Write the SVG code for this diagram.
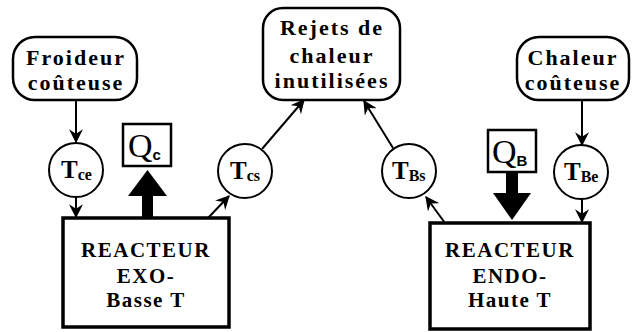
<svg xmlns="http://www.w3.org/2000/svg" width="635" height="332" viewBox="0 0 635 332">
<defs>
<marker id="ah" viewBox="0 0 12 12" refX="11" refY="6" markerWidth="14" markerHeight="14" markerUnits="userSpaceOnUse" orient="auto">
<path d="M0,0 L12,6 L0,12 L4,6 z" fill="#000"/>
</marker>
<style>
.bx{fill:#fff;stroke:#000;stroke-width:2.5}
.rx{fill:#fff;stroke:#000;stroke-width:3.5}
.cr{fill:#fff;stroke:#000;stroke-width:2}
.ln{stroke:#000;stroke-width:2;fill:none}
.t{font-family:"Liberation Serif","Times New Roman",serif;font-weight:bold;font-size:22px;letter-spacing:2px;text-anchor:middle;fill:#000}
.rt{font-family:"Liberation Serif","Times New Roman",serif;font-weight:bold;font-size:21px;letter-spacing:1.5px;text-anchor:middle;fill:#000}
.T{font-family:"Liberation Serif","Times New Roman",serif;font-weight:bold;font-size:25px;fill:#000}
.s{font-size:16px}
.Q{font-family:"Liberation Serif","Times New Roman",serif;font-size:34px;fill:#000}
.qs{font-family:"Liberation Sans",Arial,sans-serif;font-weight:bold;font-size:15px}
</style>
</defs>
<g id="connectors">
<line class="ln" x1="76" y1="100" x2="76" y2="142" marker-end="url(#ah)"/>
<line class="ln" x1="76" y1="197" x2="76" y2="217" marker-end="url(#ah)"/>
<line class="ln" x1="208" y1="218" x2="229" y2="196" marker-end="url(#ah)"/>
<line class="ln" x1="262" y1="149" x2="304" y2="100" marker-end="url(#ah)"/>
<line class="ln" x1="393" y1="148" x2="364" y2="101" marker-end="url(#ah)"/>
<line class="ln" x1="445" y1="223" x2="426" y2="197" marker-end="url(#ah)"/>
<line class="ln" x1="582" y1="100" x2="582" y2="145" marker-end="url(#ah)"/>
<line class="ln" x1="582" y1="199" x2="582" y2="222" marker-end="url(#ah)"/>
<path d="M142,217 L142,196 L128,196 L147.5,170 L167,196 L153,196 L153,217 z" fill="#000"/>
<path d="M506,173 L506,193 L493,193 L512,220 L531,193 L518,193 L518,173 z" fill="#000"/>
</g>
<g id="froideur">
<rect class="bx" x="13" y="37" width="124" height="63" rx="22"/>
<text class="t" x="76" y="65">Froideur</text>
<text class="t" x="76" y="90">coûteuse</text>
</g>
<g id="rejets">
<rect class="bx" x="263" y="8" width="137" height="92" rx="20"/>
<text class="t" x="332" y="35">Rejets de</text>
<text class="t" x="332" y="63">chaleur</text>
<text class="t" x="332" y="88">inutilisées</text>
</g>
<g id="chaleur">
<rect class="bx" x="517" y="37" width="112" height="63" rx="22"/>
<text class="t" x="573" y="65">Chaleur</text>
<text class="t" x="573" y="90">coûteuse</text>
</g>
<g id="tce">
<circle class="cr" cx="76" cy="170" r="27"/>
<text class="T" x="61" y="178">T<tspan class="s" dy="2">ce</tspan></text>
</g>
<g id="tcs">
<circle class="cr" cx="245" cy="171" r="27"/>
<text class="T" x="230" y="179">T<tspan class="s" dy="2">cs</tspan></text>
</g>
<g id="tbs">
<circle class="cr" cx="409" cy="171" r="27"/>
<text class="T" x="392" y="179">T<tspan class="s" dy="2">Bs</tspan></text>
</g>
<g id="tbe">
<circle class="cr" cx="581" cy="172" r="27"/>
<text class="T" x="564" y="180">T<tspan class="s" dy="2">Be</tspan></text>
</g>
<g id="qc">
<rect class="bx" x="123" y="124" width="48" height="42"/>
<text class="Q" x="128" y="157">Q<tspan class="qs" dy="3">c</tspan></text>
</g>
<g id="qb">
<rect class="bx" x="488" y="130" width="48" height="42"/>
<text class="Q" x="492" y="163">Q<tspan class="qs" dy="3">B</tspan></text>
</g>
<g id="exo">
<rect class="rx" x="63" y="218" width="166" height="109"/>
<text class="rt" x="146" y="257">REACTEUR</text>
<text class="rt" x="146" y="283">EXO-</text>
<text class="rt" x="146" y="307">Basse T</text>
</g>
<g id="endo">
<rect class="rx" x="430" y="223" width="160" height="106"/>
<text class="rt" x="510" y="257">REACTEUR</text>
<text class="rt" x="510" y="283">ENDO-</text>
<text class="rt" x="510" y="307">Haute T</text>
</g>
</svg>
